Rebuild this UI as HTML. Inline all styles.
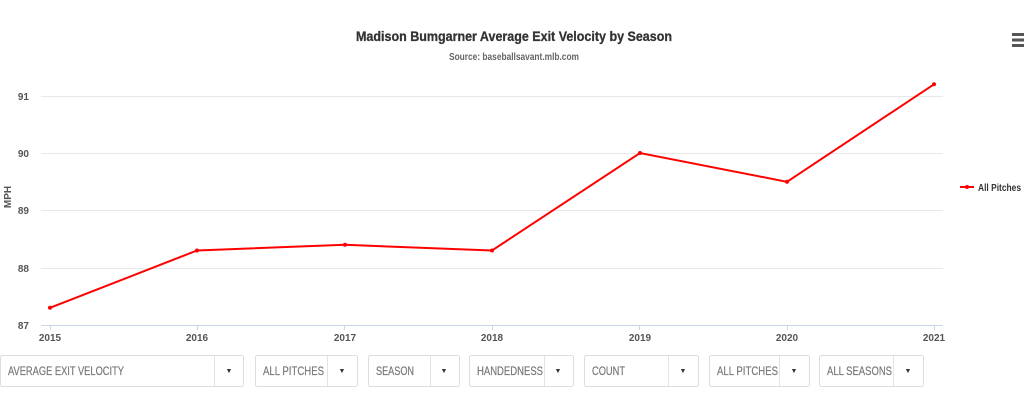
<!DOCTYPE html>
<html><head><meta charset="utf-8"><style>
html,body{margin:0;padding:0;background:#fff;}
svg{display:block;font-family:"Liberation Sans Narrow","Liberation Sans",sans-serif;}
</style></head><body>
<svg width="1024" height="410" viewBox="0 0 1024 410" xmlns="http://www.w3.org/2000/svg">
<rect width="1024" height="410" fill="#fff"/>
<text x="514" y="41" text-anchor="middle" font-size="14" font-weight="bold" fill="#333" stroke="#333" stroke-width="0.3" textLength="316" lengthAdjust="spacingAndGlyphs">Madison Bumgarner Average Exit Velocity by Season</text>
<text x="514" y="60" text-anchor="middle" font-size="10" font-weight="bold" fill="#666" textLength="130" lengthAdjust="spacingAndGlyphs">Source: baseballsavant.mlb.com</text>
<g fill="#555"><rect x="1012" y="33" width="12" height="3"/><rect x="1012" y="38.5" width="12" height="3"/><rect x="1012" y="44" width="12" height="3"/></g>
<g stroke="#e8e8e8" stroke-width="1">
<line x1="41" y1="96.5" x2="943" y2="96.5"/>
<line x1="41" y1="153.5" x2="943" y2="153.5"/>
<line x1="41" y1="210.5" x2="943" y2="210.5"/>
<line x1="41" y1="268.5" x2="943" y2="268.5"/>
</g>
<line x1="41" y1="325.5" x2="943" y2="325.5" stroke="#ccd6eb"/>
<g stroke="#ccd6eb"><line x1="50.5" y1="325" x2="50.5" y2="330"/><line x1="197.5" y1="325" x2="197.5" y2="330"/><line x1="344.5" y1="325" x2="344.5" y2="330"/><line x1="492.5" y1="325" x2="492.5" y2="330"/><line x1="639.5" y1="325" x2="639.5" y2="330"/><line x1="787.5" y1="325" x2="787.5" y2="330"/><line x1="934.5" y1="325" x2="934.5" y2="330"/></g>
<g font-size="10" font-weight="bold" fill="#555" text-anchor="end">
<text x="29" y="100">91</text><text x="29" y="157">90</text><text x="29" y="214">89</text><text x="29" y="272">88</text><text x="29" y="329">87</text>
</g>
<text transform="translate(11,197) rotate(-90)" text-anchor="middle" font-size="10" font-weight="bold" fill="#555">MPH</text>
<g font-size="10" font-weight="bold" fill="#555" text-anchor="middle">
<text x="50" y="341">2015</text><text x="197" y="341">2016</text><text x="345" y="341">2017</text><text x="492" y="341">2018</text><text x="640" y="341">2019</text><text x="787" y="341">2020</text><text x="934" y="341">2021</text>
</g>
<polyline fill="none" stroke="#ff0000" stroke-width="2" points="50,307.8 197,250.5 345,244.8 492,250.5 640,153 787,181.8 934,84.3"/>
<g fill="#ff0000"><circle cx="50" cy="307.8" r="2"/><circle cx="197" cy="250.5" r="2"/><circle cx="345" cy="244.8" r="2"/><circle cx="492" cy="250.5" r="2"/><circle cx="640" cy="153" r="2"/><circle cx="787" cy="181.8" r="2"/><circle cx="934" cy="84.3" r="2"/></g>
<line x1="960" y1="187" x2="974" y2="187" stroke="#ff0000" stroke-width="2"/><circle cx="967" cy="187" r="2" fill="#ff0000"/>
<text x="978" y="191" font-size="10" font-weight="bold" fill="#333" textLength="43" lengthAdjust="spacingAndGlyphs">All Pitches</text>
<g fill="#fff" stroke="#ddd" stroke-width="1">
<rect x="0.5" y="355.5" width="243" height="31" rx="2"/>
<rect x="255.5" y="355.5" width="102" height="31" rx="2"/>
<rect x="368.5" y="355.5" width="91" height="31" rx="2"/>
<rect x="469.5" y="355.5" width="104" height="31" rx="2"/>
<rect x="584.5" y="355.5" width="114" height="31" rx="2"/>
<rect x="709.5" y="355.5" width="100" height="31" rx="2"/>
<rect x="819.5" y="355.5" width="104" height="31" rx="2"/>
</g>
<g stroke="#e3e3e3"><line x1="214.5" y1="356" x2="214.5" y2="386"/><line x1="327.5" y1="356" x2="327.5" y2="386"/><line x1="430.5" y1="356" x2="430.5" y2="386"/><line x1="544.5" y1="356" x2="544.5" y2="386"/><line x1="668.5" y1="356" x2="668.5" y2="386"/><line x1="779.5" y1="356" x2="779.5" y2="386"/><line x1="893.5" y1="356" x2="893.5" y2="386"/></g>
<g font-size="12" fill="#777" stroke="#777" stroke-width="0.2">
<text x="8" y="375" textLength="116" lengthAdjust="spacingAndGlyphs">AVERAGE EXIT VELOCITY</text>
<text x="263" y="375" textLength="61" lengthAdjust="spacingAndGlyphs">ALL PITCHES</text>
<text x="376" y="375" textLength="38" lengthAdjust="spacingAndGlyphs">SEASON</text>
<text x="477" y="375" textLength="66" lengthAdjust="spacingAndGlyphs">HANDEDNESS</text>
<text x="592" y="375" textLength="33" lengthAdjust="spacingAndGlyphs">COUNT</text>
<text x="717" y="375" textLength="61" lengthAdjust="spacingAndGlyphs">ALL PITCHES</text>
<text x="827" y="375" textLength="65" lengthAdjust="spacingAndGlyphs">ALL SEASONS</text>
</g>
<g font-size="7" fill="#333" text-anchor="middle">
<text x="229" y="373">▼</text><text x="342" y="373">▼</text><text x="444" y="373">▼</text><text x="558" y="373">▼</text><text x="683" y="373">▼</text><text x="794" y="373">▼</text><text x="908" y="373">▼</text>
</g>
</svg>
</body></html>
